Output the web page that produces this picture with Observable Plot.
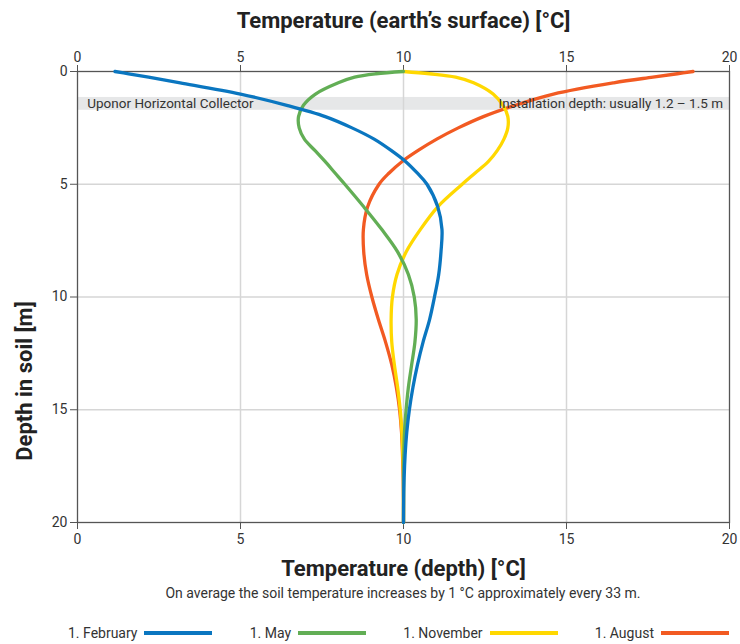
<!DOCTYPE html>
<html><head><meta charset="utf-8">
<script src="https://cdn.jsdelivr.net/npm/d3@7"></script>
<script src="https://cdn.jsdelivr.net/npm/@observablehq/plot@0.6"></script>
<style>
body{margin:0;background:#fff;font-family:Roboto,sans-serif;color:#333;width:740px}
#chart svg{display:block}
.caption{margin:3px 0 0 77px;width:652px;text-align:center;font-size:14px;line-height:16px;color:#333}
.legend{display:flex;justify-content:space-between;margin:23px 0 0 68px;width:661px;font-size:14px;line-height:18px;color:#333}
.legend .item{display:flex;align-items:center}
.legend .sw{display:inline-block;width:68px;height:4px;margin-left:7px}
</style></head><body>
<div id="chart"></div>
<div class="caption" id="caption"></div>
<div class="legend" id="legend"></div>
<script>
// ---- data ----
const depths   = [0,0.1,0.25,0.5,1,1.5,2,2.5,3,3.5,4,4.5,5,6,7,8,9,10,11,12,13,14,15,16,17,18,19,20];
const february = [1.15,1.57,2.18,3.15,5.0,6.42,7.6,8.42,9.1,9.62,10.07,10.42,10.72,11.05,11.18,11.15,11.08,10.95,10.8,10.6,10.43,10.29,10.18,10.1,10.05,10.02,10.005,10.0];
const may      = [10.0,9.15,8.5,8.0,7.3,6.93,6.78,6.8,6.96,7.28,7.6,7.9,8.2,8.78,9.33,9.82,10.15,10.33,10.39,10.35,10.25,10.15,10.08,10.03,10.01,10.0,10.0,10.0];
const november = [10,10.8,11.6,12.15,12.75,13.05,13.2,13.2,13.08,12.88,12.6,12.2,11.8,11.05,10.52,10.08,9.8,9.66,9.62,9.64,9.72,9.82,9.9,9.95,9.98,10,10,10];
const august   = [18.88,18.4,17.65,16.45,14.6,13.42,12.45,11.68,11.02,10.45,9.95,9.56,9.25,8.9,8.77,8.78,8.87,9.03,9.23,9.45,9.64,9.78,9.88,9.94,9.97,9.99,10,10];
const seriesNames  = ["1. February","1. May","1. November","1. August"];
const seriesColors = ["#0a76c0","#62ae55","#ffd800","#f25a22"];
const xTicks = [0,5,10,15,20];
const yTicks = [0,5,10,15,20];
const bandDepth = [1.15,1.72];
const bandLabels = ["Uponor Horizontal Collector","Installation depth: usually 1.2 – 1.5 m"];
const topTitle = "Temperature (earth’s surface) [°C]";
const bottomTitle = "Temperature (depth) [°C]";
const yTitle = "Depth in soil [m]";
const captionText = "On average the soil temperature increases by 1 °C approximately every 33 m.";

// ---- table ----
const seriesValues = [february, may, november, august];
const rows = seriesValues.flatMap((vals, s) => vals.map((t, i) => ({series: seriesNames[s], t, d: depths[i]})));
const drawOrder = ["1. August","1. November","1. May","1. February"];

const font = "Roboto, sans-serif";
const plot = Plot.plot({
  width: 740, height: 582,
  marginLeft: 77, marginRight: 11, marginTop: 71, marginBottom: 60,
  style: {fontFamily: font, fontSize: "13px", color: "#333", background: "#fff", overflow: "visible"},
  x: {domain: [0, 20]},
  y: {domain: [0, 20], reverse: true},
  color: {domain: seriesNames, range: seriesColors},
  marks: [
    Plot.rect([bandDepth], {x1: () => 0, x2: () => 20, y1: d => d[0], y2: d => d[1], fill: "#e6e7e8"}),
    Plot.gridX(xTicks.slice(1, -1), {stroke: "#d6d6d6", strokeOpacity: 1, strokeWidth: 1.5}),
    Plot.gridY(yTicks.slice(1, -1), {stroke: "#d6d6d6", strokeOpacity: 1, strokeWidth: 1.5}),
    Plot.frame({stroke: "#555", strokeWidth: 1.3}),
    Plot.axisX(xTicks, {anchor: "top", tickSize: 7, tickPadding: 3, label: null, stroke: "#555", fontSize: 14}),
    Plot.axisX(xTicks, {anchor: "bottom", tickSize: 7, tickPadding: 5, label: null, stroke: "#555", fontSize: 14}),
    Plot.axisY(yTicks, {anchor: "left", tickSize: 7, tickPadding: 3, label: null, stroke: "#555", fontSize: 14}),
    ...drawOrder.map(name => Plot.line(rows.filter(r => r.series === name), {
      x: "t", y: "d", stroke: "series", strokeWidth: 3.3, curve: "catmull-rom"
    })),
    Plot.text([bandLabels[0]], {x: () => 0.3, y: () => (bandDepth[0] + bandDepth[1]) / 2, text: d => d, textAnchor: "start", fontSize: 13.5, fill: "#333"}),
    Plot.text([bandLabels[1]], {x: () => 19.8, y: () => (bandDepth[0] + bandDepth[1]) / 2, text: d => d, textAnchor: "end", fontSize: 13.5, fill: "#333"}),
    Plot.text([topTitle], {frameAnchor: "top", lineAnchor: "middle", dy: -51, text: d => d, fontSize: 22, fontWeight: "bold", fill: "#222"}),
    Plot.text([bottomTitle], {frameAnchor: "bottom", lineAnchor: "middle", dy: 46, text: d => d, fontSize: 22, fontWeight: "bold", fill: "#222"}),
    Plot.text([yTitle], {frameAnchor: "left", textAnchor: "middle", lineAnchor: "middle", dx: -53, dy: 84, rotate: -90, text: d => d, fontSize: 22, fontWeight: "bold", fill: "#222"})
  ]
});
document.getElementById("chart").append(plot);
document.getElementById("caption").textContent = captionText;
const legend = document.getElementById("legend");
seriesNames.forEach((n, i) => {
  const item = document.createElement("div"); item.className = "item";
  const lab = document.createElement("span"); lab.textContent = n;
  const sw = document.createElement("span"); sw.className = "sw"; sw.style.background = seriesColors[i];
  item.append(lab, sw); legend.append(item);
});
</script>
</body></html>
